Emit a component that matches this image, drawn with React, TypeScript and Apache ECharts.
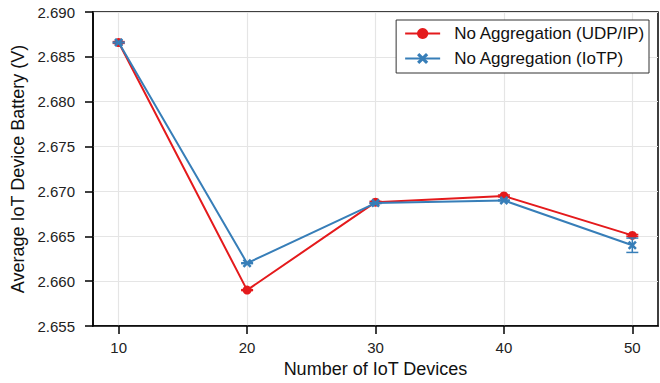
import React, { useEffect, useRef } from "react";
import * as echarts from "echarts";

const xValues = [10, 20, 30, 40, 50];
const udpValues = [2.6866, 2.659, 2.6688, 2.6695, 2.6651];
const udpErr = [0.0001, 0.00005, 0.0001, 0.0001, 0.0001];
const iotpValues = [2.6866, 2.662, 2.6687, 2.669, 2.664];
const iotpErr = [0.00005, 0.00005, 0.00005, 0.00005, 0.0008];
const xTicks = [10, 20, 30, 40, 50];
const seriesNames = ["No Aggregation (UDP/IP)", "No Aggregation (IoTP)"];

const RED = "#e41a1c";
const BLUE = "#377eb8";
const FONT = "'Liberation Sans', Arial, sans-serif";
const X_SYMBOL =
  "path://M2,0 L5,3 L8,0 L10,2 L7,5 L10,8 L8,10 L5,7 L2,10 L0,8 L3,5 L0,2 Z";

function errData(vals: number[], errs: number[]) {
  return xValues.map((x, i) => [x, vals[i] - errs[i], vals[i] + errs[i]]);
}

function errSeries(name: string, data: number[][], color: string, z: number) {
  return {
    type: "custom",
    name: name + "-err",
    z,
    data,
    renderItem: (params: any, api: any) => {
      const x = api.value(0);
      const lo = api.coord([x, api.value(1)]);
      const hi = api.coord([x, api.value(2)]);
      const cap = 6;
      const style = { stroke: color, lineWidth: 1.5, fill: "none" };
      return {
        type: "group",
        children: [
          { type: "line", shape: { x1: lo[0], y1: lo[1], x2: hi[0], y2: hi[1] }, style },
          { type: "line", shape: { x1: lo[0] - cap, y1: lo[1], x2: lo[0] + cap, y2: lo[1] }, style },
          { type: "line", shape: { x1: hi[0] - cap, y1: hi[1], x2: hi[0] + cap, y2: hi[1] }, style },
        ],
      };
    },
    silent: true,
  };
}

export default function App() {
  const ref = useRef<HTMLDivElement>(null);
  useEffect(() => {
    if (!ref.current) return;
    const chart = echarts.init(ref.current, undefined, { renderer: "svg" });
    chart.setOption({
      animation: false,
      backgroundColor: "#ffffff",
      textStyle: { fontFamily: FONT },
      grid: {
        left: 93,
        right: 2,
        top: 12,
        bottom: 55,
        show: true,
        borderColor: "#000",
        borderWidth: 1.5,
        backgroundColor: "transparent",
      },
      legend: {
        data: seriesNames,
        orient: "vertical",
        right: 11,
        top: 20,
        padding: [5, 4, 6, 8],
        itemGap: 8,
        itemWidth: 35,
        itemHeight: 14,
        borderColor: "#333",
        borderWidth: 1,
        backgroundColor: "#fff",
        textStyle: { fontFamily: FONT, fontSize: 17, color: "#111", padding: [0, 0, 0, 9] },
      },
      xAxis: {
        type: "value",
        min: 8,
        max: 52,
        name: "Number of IoT Devices",
        nameLocation: "middle",
        nameGap: 34,
        nameTextStyle: { fontFamily: FONT, fontSize: 18, color: "#111" },
        axisLine: { show: true, onZero: false, lineStyle: { color: "#000", width: 1.5 } },
        axisTick: {
          show: true,
          inside: false,
          length: 8,
          customValues: xTicks,
          lineStyle: { color: "#000", width: 1.5 },
        },
        axisLabel: {
          customValues: xTicks,
          margin: 14,
          fontFamily: FONT,
          fontSize: 15,
          color: "#222",
        },
        splitLine: { show: true, lineStyle: { color: "#e5e5e5", width: 1.2 } },
      },
      yAxis: {
        type: "value",
        min: 2.655,
        max: 2.69,
        interval: 0.005,
        name: "Average IoT Device Battery (V)",
        nameLocation: "middle",
        nameGap: 63,
        nameTextStyle: { fontFamily: FONT, fontSize: 18, color: "#111" },
        axisLine: { show: true, lineStyle: { color: "#000", width: 1.5 } },
        axisTick: { show: true, inside: false, length: 8, lineStyle: { color: "#000", width: 1.5 } },
        axisLabel: {
          margin: 18,
          fontFamily: FONT,
          fontSize: 15,
          color: "#222",
          formatter: (v: number) => v.toFixed(3),
        },
        splitLine: { show: true, lineStyle: { color: "#e5e5e5", width: 1.2 } },
      },
      series: [
        errSeries(seriesNames[0], errData(udpValues, udpErr), RED, 3),
        {
          type: "line",
          name: seriesNames[0],
          z: 4,
          data: xValues.map((x, i) => [x, udpValues[i]]),
          symbol: "circle",
          symbolSize: 9,
          lineStyle: { color: RED, width: 2 },
          itemStyle: { color: RED },
          color: RED,
        },
        errSeries(seriesNames[1], errData(iotpValues, iotpErr), BLUE, 5),
        {
          type: "line",
          name: seriesNames[1],
          z: 6,
          data: xValues.map((x, i) => [x, iotpValues[i]]),
          symbol: X_SYMBOL,
          symbolSize: 9,
          lineStyle: { color: BLUE, width: 2 },
          itemStyle: { color: BLUE },
          color: BLUE,
        },
      ],
    });
    return () => chart.dispose();
  }, []);
  return (
    <div
      ref={ref}
      style={{ position: "fixed", left: 0, top: 0, width: 660, height: 383, background: "#fff" }}
    />
  );
}
